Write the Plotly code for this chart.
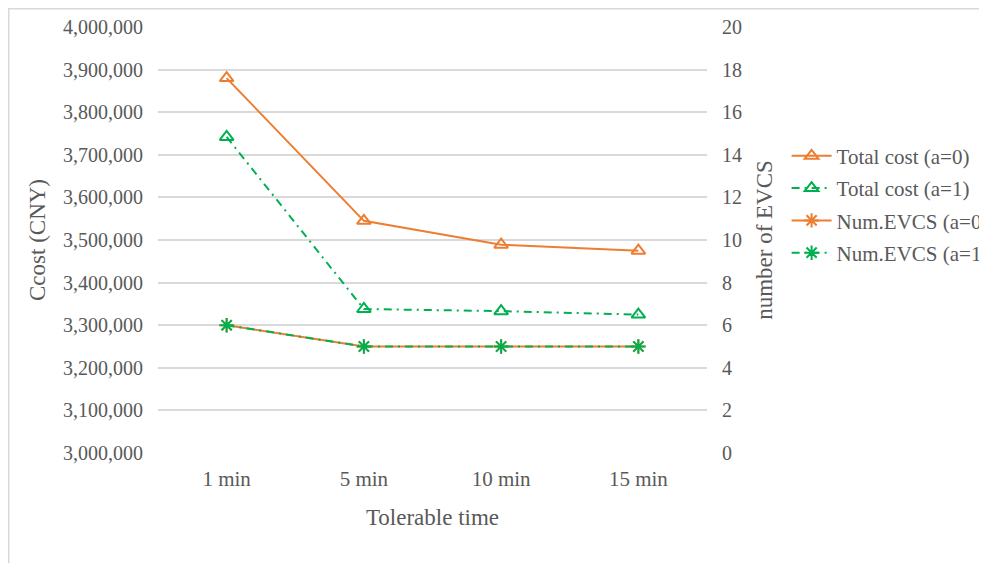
import plotly.graph_objects as go

categories = ["1 min", "5 min", "10 min", "15 min"]
total_cost_a0 = [3880000, 3545000, 3489000, 3475000]
total_cost_a1 = [3742000, 3338000, 3333000, 3325000]
num_evcs_a0 = [6, 5, 5, 5]
num_evcs_a1 = [6, 5, 5, 5]

ORANGE = "#ED7D31"
GREEN = "#00B050"
FONT = "Liberation Serif"
TXT = "#595959"
DASH = "8px,5px,2px,5px"

# figure is placed by the page at (8, 8); size chosen so it fits the window
W, H = 979, 555
L, R, T, B = 150, 280, 19, 110
PW, PH = W - L - R, H - T - B

fig = go.Figure()
fig.add_trace(go.Scatter(
    x=categories, y=total_cost_a0, name="Total cost (a=0)", mode="lines+markers",
    legendgroup="g1",
    line=dict(color=ORANGE, width=2),
    marker=dict(symbol="triangle-up-open", size=12, color=ORANGE, line=dict(width=2, color=ORANGE)),
))
fig.add_trace(go.Scatter(
    x=categories, y=total_cost_a1, name="Total cost (a=1)", mode="lines+markers",
    legendgroup="g2",
    line=dict(color=GREEN, width=2, dash=DASH),
    marker=dict(symbol="triangle-up-open", size=12, color=GREEN, line=dict(width=2, color=GREEN)),
))
fig.add_trace(go.Scatter(
    x=categories, y=num_evcs_a0, name="Num.EVCS (a=0)", mode="lines+markers", yaxis="y2",
    legendgroup="g3",
    line=dict(color=ORANGE, width=2),
    marker=dict(symbol="asterisk-open", size=12, color=ORANGE, line=dict(width=2, color=ORANGE)),
))
fig.add_trace(go.Scatter(
    x=categories, y=num_evcs_a1, name="Num.EVCS (a=1)", mode="lines+markers", yaxis="y2",
    legendgroup="g4",
    line=dict(color=GREEN, width=2, dash=DASH),
    marker=dict(symbol="asterisk-open", size=12, color=GREEN, line=dict(width=2, color=GREEN)),
))

fig.update_layout(
    width=W, height=H,
    margin=dict(l=L, r=R, t=T, b=B, autoexpand=False),
    paper_bgcolor="white", plot_bgcolor="white",
    font=dict(family=FONT, color=TXT, size=20),
    xaxis=dict(
        type="category", range=[-0.5, 3.5], showgrid=False, showline=False, zeroline=False,
        automargin=False,
        tickfont=dict(size=21), ticks="", ticklabelstandoff=11,
        title=dict(text="Tolerable time", font=dict(size=23), standoff=18),
    ),
    yaxis=dict(
        range=[3000000, 4000000], dtick=100000, tickformat=",d",
        showgrid=True, gridcolor="#D9D9D9", gridwidth=1.5, zeroline=False, showline=False,
        automargin=False,
        tickfont=dict(size=20), ticklabelstandoff=14,
        title=dict(text="Ccost (CNY)", font=dict(size=23), standoff=10),
    ),
    yaxis2=dict(
        overlaying="y", side="right", range=[0, 20], dtick=2,
        showgrid=False, zeroline=False, showline=False,
        automargin=False,
        tickfont=dict(size=20), ticklabelstandoff=14,
        title=dict(text="number of EVCS", font=dict(size=23), standoff=14),
    ),
    legend=dict(
        x=1.145, y=0.745, xanchor="left", yanchor="top",
        font=dict(size=21), bgcolor="rgba(0,0,0,0)", tracegroupgap=2,
        itemwidth=40,
    ),
    shapes=[dict(
        type="rect", xref="paper", yref="paper",
        x0=(0.75 - L) / PW, x1=1.8, y0=-0.4, y1=(PH + T - 0.75) / PH,
        line=dict(color="#D9D9D9", width=1.5), layer="below",
    )],
)

fig.write_html("out.html")
